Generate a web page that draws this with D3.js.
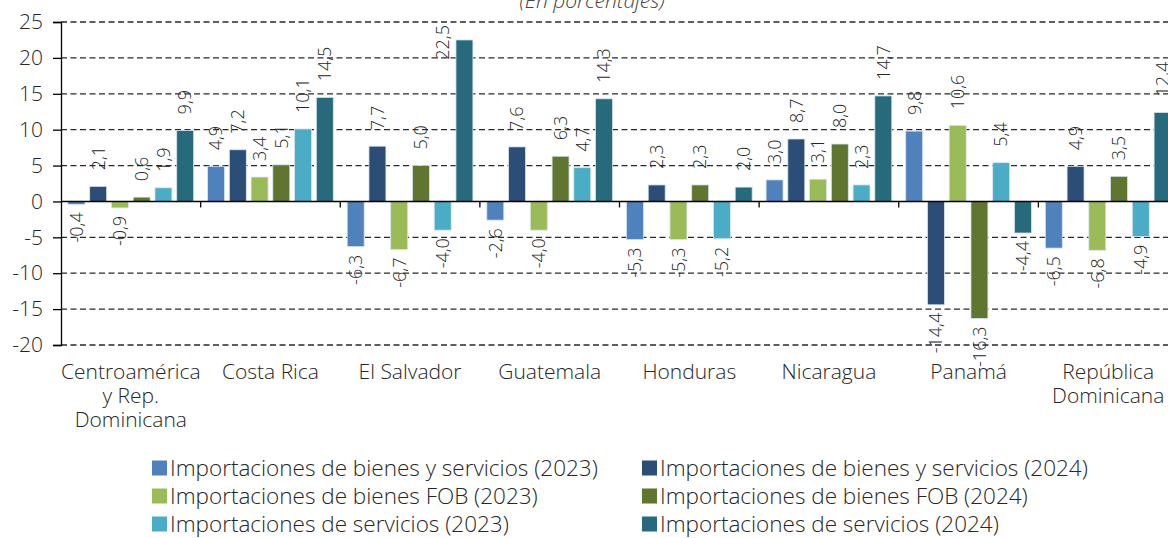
<!DOCTYPE html>
<html><head><meta charset="utf-8">
<script src="https://cdn.jsdelivr.net/npm/d3@7"></script>
<style>
body{margin:0;background:#fff;}
text{font-family:"Open Sans","Noto Sans",sans-serif;font-weight:300;fill:#262626;}
</style></head>
<body><svg id="c" width="1168" height="538"></svg>
<script>
const categories = [["Centroamérica","y Rep.","Dominicana"],["Costa Rica"],["El Salvador"],["Guatemala"],["Honduras"],["Nicaragua"],["Panamá"],["República","Dominicana"]];
const seriesNames = ["Importaciones de bienes y servicios (2023)","Importaciones de bienes y servicios (2024)","Importaciones de bienes FOB (2023)","Importaciones de bienes FOB (2024)","Importaciones de servicios (2023)","Importaciones de servicios (2024)"];
const bsv2023 = [-0.4, 4.9, -6.3, -2.6, -5.3, 3.0, 9.8, -6.5];
const bsv2024 = [2.1, 7.2, 7.7, 7.6, 2.3, 8.7, -14.4, 4.9];
const fob2023 = [-0.9, 3.4, -6.7, -4.0, -5.3, 3.1, 10.6, -6.8];
const fob2024 = [0.6, 5.1, 5.0, 6.3, 2.3, 8.0, -16.3, 3.5];
const srv2023 = [1.9, 10.1, -4.0, 4.7, -5.2, 2.3, 5.4, -4.9];
const srv2024 = [9.9, 14.5, 22.5, 14.3, 2.0, 14.7, -4.4, 12.4];
const yTicks = [25,20,15,10,5,0,-5,-10,-15,-20];
const colors = ["#4f81bd","#2c4d75","#9bbb59","#5f7530","#4bacc6","#276a7c"];

(function(){
const seriesVals = [bsv2023,bsv2024,fob2023,fob2024,srv2023,srv2024];
const svg = d3.select("#c");
const mL = 61, mR = 1178, mT = 22, mB = 345;
const y = d3.scaleLinear().domain([-20,25]).range([mB, mT]);
const x0 = d3.scaleBand().domain(d3.range(categories.length)).range([mL,mR]).padding(0);
const x1 = d3.scaleBand().domain(d3.range(6)).range([0,x0.bandwidth()]).paddingInner(0.22).paddingOuter(0.32);
const fmt = v => d3.format(".1f")(v).replace(".",",").replace("−","-");

// title (cut at top edge as in the reference)
svg.append("text").attr("x",592).attr("y",8).attr("text-anchor","middle")
  .style("font-style","italic").style("font-size","21px").style("fill","#444").text("(En porcentajes)");

// grid
svg.append("g").selectAll("line").data(yTicks.filter(d=>d!==0)).join("line")
  .attr("x1",mL).attr("x2",1168).attr("y1",d=>y(d)).attr("y2",d=>y(d))
  .attr("stroke","#2a2a2a").attr("stroke-width",1.3).attr("stroke-dasharray","6,3.5");

// y axis
const ya = svg.append("g").attr("transform",`translate(${mL},0)`)
  .call(d3.axisLeft(y).tickValues(yTicks).tickSize(8).tickPadding(10).tickFormat(d=>String(d)));
ya.attr("font-family",null).attr("font-size",null);
ya.select(".domain").attr("stroke","#000").attr("stroke-width",1.3);
ya.selectAll(".tick line").attr("stroke","#000").attr("stroke-width",1.3);
ya.selectAll(".tick text").style("font-size","21px").style("fill","#262626");

// bars
const data = [];
categories.forEach((c,i)=>seriesVals.forEach((s,j)=>data.push({i,j,v:s[i]})));
svg.append("g").selectAll("rect").data(data).join("rect")
  .attr("x",d=>x0(d.i)+x1(d.j)).attr("width",x1.bandwidth())
  .attr("y",d=>Math.min(y(d.v),y(0))).attr("height",d=>Math.abs(y(d.v)-y(0)))
  .attr("fill",d=>colors[d.j]).attr("stroke","#d8e4ee").attr("stroke-width",0.8);

// zero line & category ticks
svg.append("line").attr("x1",mL).attr("x2",1168).attr("y1",y(0)).attr("y2",y(0)).attr("stroke","#000").attr("stroke-width",1.5);
svg.append("g").selectAll("line").data(d3.range(1,categories.length)).join("line")
  .attr("x1",d=>x0(d)).attr("x2",d=>x0(d)).attr("y1",y(0)).attr("y2",y(0)+6).attr("stroke","#000").attr("stroke-width",1.3);

// value labels
const vl = svg.append("g").selectAll("text").data(data).join("text")
  .attr("text-anchor",d=>d.v>=0?"start":"end").attr("dy","0.35em")
  .style("font-size","18px").text(d=>fmt(d.v));
vl.attr("transform",function(d){
    let cx = x0(d.i)+x1(d.j)+x1.bandwidth()/2;
    let yy = d.v>=0 ? y(d.v)-16 : y(d.v)+8;
    if(d.v>=0){
      const len = this.getComputedTextLength();
      if(yy-len < mT){ cx -= x1.step(); yy = mT+3+len; }
    }
    return `translate(${cx},${yy}) rotate(-90)`;});

// category labels (one text per line)
const lines = [];
categories.forEach((c,i)=>c.forEach((t,k)=>lines.push({i,k,t})));
svg.append("g").selectAll("text").data(lines).join("text")
  .attr("x",d=>x0(d.i)+x0.bandwidth()/2).attr("y",d=>379+d.k*24)
  .attr("text-anchor","middle").style("font-size","21px").text(d=>d.t);

// legend
const lg = svg.append("g").selectAll("g").data(seriesNames).join("g")
  .attr("transform",(d,k)=>`translate(${k%2===0?152:642},${468+Math.floor(k/2)*28})`);
lg.append("rect").attr("x",0).attr("y",-7.5).attr("width",15).attr("height",15).attr("fill",(d,k)=>colors[k]);
lg.append("text").attr("x",18).attr("y",0).attr("dy","0.36em").style("font-size","22.5px").text(d=>d);
})();
</script></body></html>
